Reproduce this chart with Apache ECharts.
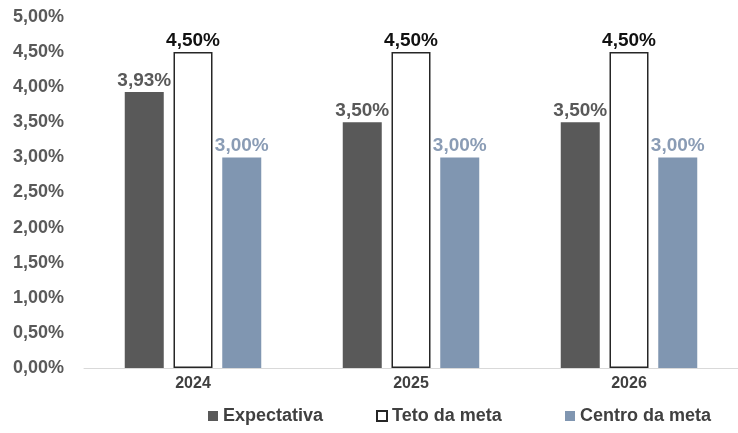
<!DOCTYPE html>
<html>
<head>
<meta charset="utf-8">
<script src="https://cdn.jsdelivr.net/npm/echarts@6/dist/echarts.min.js"></script>
<style>
  html, body { margin: 0; padding: 0; background: #ffffff; }
  #chart { width: 738px; height: 433px; }
</style>
</head>
<body>
<div id="chart"></div>
<script>
// Inflation expectation vs. target ceiling and centre, by year
const years = ['2024', '2025', '2026'];
const expectativa = [3.93, 3.50, 3.50];
const tetoDaMeta = [4.50, 4.50, 4.50];
const centroDaMeta = [3.00, 3.00, 3.00];
const yTicks = [0, 0.5, 1, 1.5, 2, 2.5, 3, 3.5, 4, 4.5, 5];
const seriesNames = ['Expectativa', 'Teto da meta', 'Centro da meta'];

const FONT = '"Liberation Sans", Arial, sans-serif';
const pct = v => v.toFixed(2).replace('.', ',') + '%';

const chart = echarts.init(document.getElementById('chart'));

function labelStyle(color) {
  return {
    show: true,
    position: 'top',
    distance: 2,
    formatter: p => pct(p.value),
    color: color,
    fontFamily: FONT,
    fontWeight: 'bold',
    fontSize: 19
  };
}

// one legend entry per block so each can sit at its own horizontal spot
const legendLeft = [203, 371, 560];
const legends = seriesNames.map((name, i) => ({
  bottom: 3,
  left: legendLeft[i],
  icon: 'rect',
  itemWidth: 10,
  itemHeight: 10,
  textStyle: { fontFamily: FONT, fontWeight: 'bold', fontSize: 18, color: '#404040' },
  data: [name]
}));

chart.setOption({
  animation: false,
  backgroundColor: '#ffffff',
  grid: { left: 84, right: -9, top: 17, bottom: 65 },
  legend: legends,
  xAxis: {
    type: 'category',
    data: years,
    axisLine: { show: true, lineStyle: { color: '#d9d9d9', width: 1 } },
    axisTick: { show: false },
    axisLabel: { color: '#404040', fontFamily: FONT, fontWeight: 'bold', fontSize: 16, margin: 8 }
  },
  yAxis: {
    type: 'value',
    min: yTicks[0],
    max: yTicks[yTicks.length - 1],
    interval: 0.5,
    splitLine: { show: false },
    axisLine: { show: false },
    axisTick: { show: false },
    axisLabel: {
      formatter: v => pct(v),
      color: '#595959',
      fontFamily: FONT,
      fontWeight: 'bold',
      fontSize: 18,
      margin: 20
    }
  },
  series: [
    {
      name: seriesNames[0],
      type: 'bar',
      data: expectativa,
      barWidth: 39,
      barGap: '25%',
      itemStyle: { color: '#595959' },
      label: labelStyle('#595959')
    },
    {
      name: seriesNames[1],
      type: 'bar',
      data: tetoDaMeta,
      barWidth: 39,
      barGap: '25%',
      itemStyle: { color: '#ffffff', borderColor: '#262626', borderWidth: 1.5 },
      label: labelStyle('#111111')
    },
    {
      name: seriesNames[2],
      type: 'bar',
      data: centroDaMeta,
      barWidth: 39,
      barGap: '25%',
      itemStyle: { color: '#8096b1' },
      label: labelStyle('#8a9cb5')
    }
  ]
});
</script>
</body>
</html>
